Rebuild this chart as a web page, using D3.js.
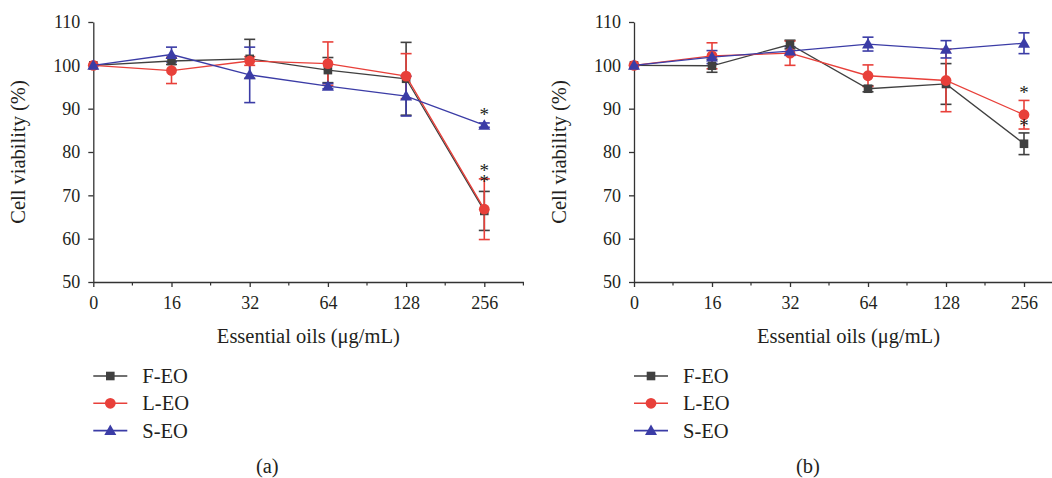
<!DOCTYPE html>
<html><head><meta charset="utf-8">
<script src="https://cdn.jsdelivr.net/npm/d3@7"></script>
<style>
html,body{margin:0;padding:0;background:#fff;}
svg{display:block;}
text{font-family:"Liberation Serif","Times New Roman",serif;fill:#231f20;}
</style></head>
<body>
<svg id="chart" width="1052" height="478"></svg>
<script>
// ---- data ----
const concentrations = ["0", "16", "32", "64", "128", "256"];
const seriesNames = ["F-EO", "L-EO", "S-EO"];
const panelLabels = ["(a)", "(b)"];
const yTicks = [50, 60, 70, 80, 90, 100, 110];
const xTitle = "Essential oils (\u03bcg/mL)";
const yTitle = "Cell viability (%)";

// panel (a)
const aF = [100, 101.0, 101.5, 98.9, 96.9, 66.4];
const aFErr = [0, 0.8, 4.5, 2.9, 8.4, 4.5];
const aL = [100, 98.8, 101.0, 100.4, 97.5, 66.8];
const aLErr = [0, 3.0, 1.0, 5.0, 5.2, 7.0];
const aS = [100, 102.5, 97.8, 95.2, 92.9, 86.2];
const aSErr = [0, 1.7, 6.4, 0.6, 4.6, 0.5];
const aStars = [[5, 89.4], [5, 75.8], [5, 73.1]];

// panel (b)
const bF = [100, 99.9, 104.8, 94.6, 95.7, 81.9];
const bFErr = [0, 1.5, 1.0, 0.7, 4.7, 2.5];
const bL = [100, 102.2, 102.8, 97.6, 96.5, 88.6];
const bLErr = [0, 3.0, 2.8, 2.5, 7.2, 3.3];
const bS = [100, 101.9, 103.3, 104.9, 103.7, 105.1];
const bSErr = [0, 1.5, 1.0, 1.6, 2.0, 2.4];
const bStars = [[5, 94.5], [5, 86.7]];

// ---- styling ----
const colors = {"F-EO": "#404040", "L-EO": "#e8403a", "S-EO": "#3b3ca6"};
const shapes = {"F-EO": "square", "L-EO": "circle", "S-EO": "triangle"};

const svg = d3.select("#chart");

function marker(g, name, x, y) {
  const c = colors[name];
  if (shapes[name] === "square") {
    g.append("rect").attr("x", x - 4.3).attr("y", y - 4.3).attr("width", 8.6).attr("height", 8.6).attr("fill", c);
  } else if (shapes[name] === "circle") {
    g.append("circle").attr("cx", x).attr("cy", y).attr("r", 5.4).attr("fill", c);
  } else {
    g.append("path").attr("d", `M${x},${y - 6}L${x + 6},${y + 4.5}L${x - 6},${y + 4.5}Z`).attr("fill", c);
  }
}

function panel(x0, step, series, stars, label) {
  const x = d3.scaleLinear().domain([0, 5.5]).range([x0, x0 + 5.5 * step]);
  const y = d3.scaleLinear().domain([50, 110]).range([282, 22]);
  const g = svg.append("g");

  // x axis
  const xa = g.append("g").attr("transform", `translate(0,${y(50)})`)
    .call(d3.axisBottom(x).tickValues(d3.range(0, 6)).tickFormat(i => concentrations[i])
      .tickSize(5).tickSizeOuter(0).tickPadding(9));
  xa.selectAll("text").style("font-size", "18px").attr("fill", "#231f20");
  // minor ticks
  xa.selectAll(".minor").data(d3.range(0.5, 6, 1)).join("line")
    .attr("x1", d => x(d)).attr("x2", d => x(d)).attr("y1", 0).attr("y2", 3.5)
    .attr("stroke", "#333").attr("stroke-width", 1.2);
  // y axis
  const ya = g.append("g").attr("transform", `translate(${x(0)},0)`)
    .call(d3.axisLeft(y).tickValues(yTicks).tickSize(5).tickSizeOuter(0).tickPadding(8));
  ya.selectAll("text").style("font-size", "18px").attr("fill", "#231f20");
  g.selectAll(".domain, .tick line").attr("stroke", "#333").attr("stroke-width", 1.3);

  // titles
  g.append("text").attr("x", (x(0) + x(5.5)) / 2).attr("y", 343)
    .attr("text-anchor", "middle").style("font-size", "20.5px").text(xTitle);
  g.append("text").attr("transform", `translate(${x(0) - 68},152) rotate(-90)`)
    .attr("text-anchor", "middle").style("font-size", "20.5px").text(yTitle);

  const line = d3.line().x((d, i) => x(i)).y(d => y(d));
  // error bars
  series.forEach(s => {
    const eg = g.append("g").attr("stroke", colors[s.name]).attr("stroke-width", 1.6);
    s.values.forEach((v, i) => {
      const e = s.err[i];
      if (!e) return;
      const xi = x(i);
      eg.append("line").attr("x1", xi).attr("x2", xi).attr("y1", y(v + e)).attr("y2", y(v - e));
      eg.append("line").attr("x1", xi - 5.5).attr("x2", xi + 5.5).attr("y1", y(v + e)).attr("y2", y(v + e));
      eg.append("line").attr("x1", xi - 5.5).attr("x2", xi + 5.5).attr("y1", y(v - e)).attr("y2", y(v - e));
    });
  });
  // lines and markers
  series.forEach(s => {
    g.append("path").datum(s.values).attr("d", line).attr("fill", "none")
      .attr("stroke", colors[s.name]).attr("stroke-width", 1.3);
    s.values.forEach((v, i) => marker(g, s.name, x(i), y(v)));
  });
  // significance stars: stars closer than a line height are stacked in one vertical text
  const sorted = stars.slice().sort((a, b) => b[1] - a[1]);
  const stacks = [];
  sorted.forEach(d => {
    const last = stacks[stacks.length - 1];
    if (last && last[0][0] === d[0] && Math.abs(y(last[last.length - 1][1]) - y(d[1])) < 18) last.push(d);
    else stacks.push([d]);
  });
  stacks.forEach(st => {
    if (st.length === 1) {
      g.append("text").attr("x", x(st[0][0])).attr("y", y(st[0][1]) + 9.5)
        .attr("text-anchor", "middle").style("font-size", "19px").attr("fill", "#444").text("*");
    } else {
      const gap = (y(st[st.length - 1][1]) - y(st[0][1])) / (st.length - 1);
      const t = g.append("text").attr("fill", "#444").style("font-size", "19px")
        .style("writing-mode", "vertical-rl").style("text-orientation", "upright")
        .attr("x", x(st[0][0])).attr("y", 0).text("*".repeat(st.length));
      // measure the glyph advance and tune spacing so glyph centres match the stacked values
      const adv = t.node().getComputedTextLength() / st.length;
      t.style("letter-spacing", (gap - adv) + "px");
      const bb = t.node().getBBox();
      const topCenter = y(st[0][1]);
      // position: shift so that the first glyph ink centre sits at topCenter
      t.attr("y", topCenter - adv / 2);
    }
  });

  // legend
  seriesNames.forEach((n, i) => {
    const ly = 376 + i * 27.3;
    const lx = x(0);
    g.append("line").attr("x1", lx).attr("x2", lx + 34).attr("y1", ly).attr("y2", ly)
      .attr("stroke", colors[n]).attr("stroke-width", 1.6);
    marker(g, n, lx + 17, ly);
    g.append("text").attr("x", lx + 49).attr("y", ly).attr("dy", "0.35em")
      .style("font-size", "20.5px").text(n);
  });

  // panel label
  g.append("text").attr("x", x(0) + 174).attr("y", 473).attr("text-anchor", "middle")
    .style("font-size", "20.5px").text(label);
}

const mk = (F, Fe, L, Le, S, Se) => [
  {name: "F-EO", values: F, err: Fe},
  {name: "L-EO", values: L, err: Le},
  {name: "S-EO", values: S, err: Se}
];
panel(93.3, 78.2, mk(aF, aFErr, aL, aLErr, aS, aSErr), aStars, panelLabels[0]);
panel(634, 78, mk(bF, bFErr, bL, bLErr, bS, bSErr), bStars, panelLabels[1]);
</script>
</body></html>
